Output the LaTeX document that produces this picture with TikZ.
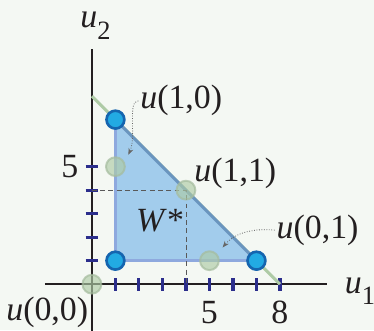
\documentclass[tikz,border=0pt]{standalone}
\usepackage{fontspec}
\setmainfont{Liberation Serif}
\usetikzlibrary{arrows.meta}
\definecolor{paper}{HTML}{F4F8F3}
\definecolor{inkdark}{HTML}{231F20}
\definecolor{tickblue}{HTML}{2B2E8C}
\definecolor{regionblue}{HTML}{A2CCEC}
\definecolor{legblue}{HTML}{8EA9DE}
\definecolor{hypblue}{HTML}{6A95BF}
\definecolor{frontiergreen}{HTML}{AECBA6}
\definecolor{ptfill}{HTML}{22AAE3}
\definecolor{ptrim}{HTML}{1565AF}
\newcommand{\uu}{\textit{u}}
\newcommand{\axsub}[1]{\raisebox{-0.35em}{\fontsize{16}{16}\selectfont #1}}
\tikzset{
  tick/.style={draw=tickblue,line width=1.9pt},
  payoff/.style={circle,fill=ptfill,draw=ptrim,line width=1.6pt,inner sep=0pt,minimum size=3.8mm},
  ghost/.style={circle,fill=frontiergreen,fill opacity=0.65,draw=frontiergreen!80!gray,draw opacity=0.7,line width=1.2pt,inner sep=0pt,minimum size=4mm},
  pointer/.style={densely dotted,gray!80!black,line width=0.5pt,-{Stealth[length=4pt,width=3pt]}},
  lbl/.style={text=inkdark,inner sep=1pt}
}
\begin{document}
\begin{tikzpicture}[x=0.5cm,y=0.5cm,font=\fontsize{20.5}{24}\selectfont]
  \fill[paper] (-3.91,-1.96) rectangle (12.0,12.09);
  \useasboundingbox (-3.91,-1.96) rectangle (12.0,12.09);
  % axes
  \draw[inkdark,line width=1.2pt] (-2,0) -- (10,0);
  \draw[inkdark,line width=1.2pt] (0,-2) -- (0,10);
  \foreach \k in {1,...,8}
    \draw[tick] (\k,-0.27) -- (\k,0.27);
  \foreach \k in {1,...,5}
    \draw[tick] (-0.27,\k) -- (0.27,\k);
  % frontier and region
  \draw[frontiergreen,line width=1.8pt] (0,8) -- (8,0);
  \fill[regionblue] (1,1) -- (1,7) -- (7,1) -- cycle;
  \draw[legblue,line width=1.8pt] (7,1) -- (1,1) -- (1,7);
  \draw[hypblue,line width=1.8pt] (1,7) -- (7,1);
  \draw[densely dashed,gray!70!black,line width=0.4pt] (0,4) -- (4,4) -- (4,0);
  % points
  \node[ghost] (g00) at (0,0) {};
  \node[ghost] (g15) at (1,5) {};
  \node[ghost] (g44) at (4,4) {};
  \node[ghost] (g51) at (5,1) {};
  \node[payoff] (p11) at (1,1) {};
  \node[payoff] (p17) at (1,7) {};
  \node[payoff] (p71) at (7,1) {};
  % labels
  \node[lbl] (l10) at (3.8,7.8) {\uu(1,0)};
  \node[lbl] (l11) at (6.1,4.7) {\uu(1,1)};
  \node[lbl] (l01) at (9.6,2.3) {\uu(0,1)};
  \node[lbl] (l00) at (-1.9,-1.2) {\uu(0,0)};
  \node[lbl] (wstar) at (2.9,2.7) {\textit{W}*};
  \node[lbl] (y5) at (-0.94,5) {5};
  \node[lbl] (x5) at (5,-1.2) {5};
  \node[lbl] (x8) at (8,-1.2) {8};
  \node[lbl] (ax2) at (0.15,11.0) {\uu\axsub{2}};
  \node[lbl] (ax1) at (11.4,-0.3) {\uu\axsub{1}};
  \coordinate (tip10) at (1.55,5.5);
  \coordinate (tip01) at (5.56,1.56);
  \draw[pointer] (l10.west) .. controls (1.5,7.8) and (1.9,6.3) .. (tip10);
  \draw[pointer] (l01.west) .. controls (6.7,2.4) and (6.0,2.1) .. (tip01);
\end{tikzpicture}
\end{document}
